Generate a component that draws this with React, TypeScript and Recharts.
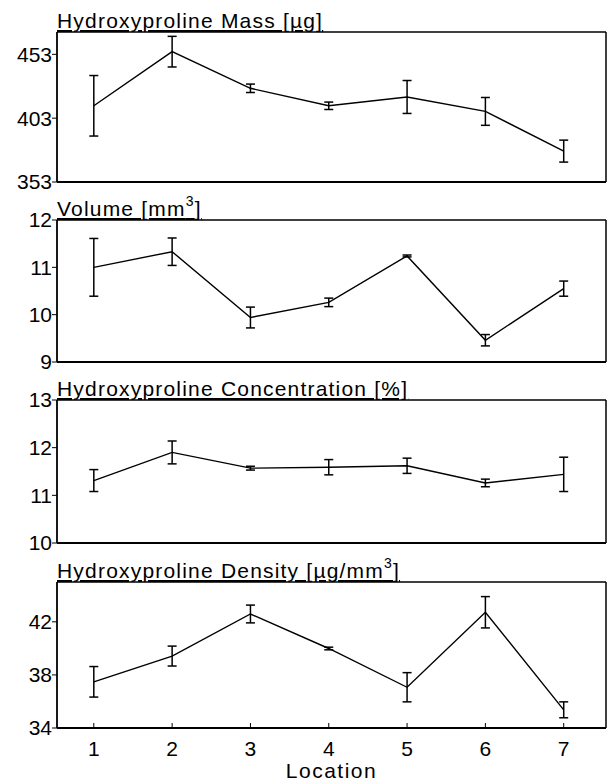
import React from 'react'
import { LineChart, Line, XAxis, YAxis, ErrorBar } from 'recharts'

const locations = [1, 2, 3, 4, 5, 6, 7]

const massMean = [412.7, 455.1, 426.4, 412.7, 419.6, 408.3, 377.2]
const massErr = [23.7, 12, 3.3, 2.9, 12.9, 10.9, 8.6]

const volumeMean = [11.0, 11.33, 9.94, 10.26, 11.24, 9.46, 10.55]
const volumeErr = [0.61, 0.29, 0.22, 0.09, 0.02, 0.12, 0.16]

const concMean = [11.31, 11.9, 11.57, 11.59, 11.62, 11.26, 11.44]
const concErr = [0.23, 0.24, 0.04, 0.16, 0.16, 0.08, 0.36]

const densityMean = [37.48, 39.42, 42.59, 39.99, 37.07, 42.72, 35.37]
const densityErr = [1.15, 0.75, 0.67, 0.1, 1.1, 1.18, 0.6]

const massTicks = [353, 403, 453]
const volumeTicks = [9, 10, 11, 12]
const concTicks = [10, 11, 12, 13]
const densityTicks = [34, 38, 42]

const FONT = '"Liberation Sans", Arial, Helvetica, sans-serif'
const W = 615
const PAD = 12
const X_DOMAIN: [number, number] = [0.53, 7.54]

const rows = (mean: number[], err: number[]) =>
  locations.map((loc, i) => ({ loc, value: mean[i], err: err[i] }))

interface PanelProps {
  data: { loc: number; value: number; err: number }[]
  domain: [number, number]
  ticks: number[]
  top: number
  height: number
  showX?: boolean
}

function Panel({ data, domain, ticks, top, height, showX }: PanelProps) {
  // 1px axes for the frame: recharts skips axes of zero size
  const xH = showX ? 52 : 1
  const tickStyle = { fill: '#000', fontSize: 21, fontFamily: FONT }
  return (
    <div style={{ position: 'absolute', left: 0, top: top - PAD }}>
      <LineChart
        width={W}
        height={height + PAD * 2 + xH}
        data={data}
        margin={{ top: PAD - 1, right: 8, bottom: PAD, left: 0 }}
      >
        <XAxis
          dataKey="loc"
          type="number"
          domain={X_DOMAIN}
          ticks={locations}
          interval={0}
          allowDataOverflow
          height={xH}
          tick={showX ? tickStyle : false}
          tickSize={-5}
          tickMargin={18}
          axisLine={{ stroke: '#000', strokeWidth: 1.8 }}
          tickLine={{ stroke: '#000', strokeWidth: 1 }}
          label={
            showX
              ? { value: 'Location', position: 'insideBottom', offset: 2, fill: '#000', fontSize: 21, fontFamily: FONT, letterSpacing: 1.5 }
              : undefined
          }
        />
        <XAxis
          xAxisId="top"
          orientation="top"
          type="number"
          domain={X_DOMAIN}
          height={1}
          tick={false}
          tickLine={false}
          axisLine={{ stroke: '#000', strokeWidth: 1.5 }}
        />
        <YAxis
          type="number"
          domain={domain}
          ticks={ticks}
          interval={0}
          allowDataOverflow
          width={57}
          tick={tickStyle}
          tickSize={5}
          tickMargin={0}
          axisLine={{ stroke: '#000', strokeWidth: 1.8 }}
          tickLine={{ stroke: '#000', strokeWidth: 1 }}
        />
        <YAxis
          yAxisId="right"
          orientation="right"
          width={1}
          tick={false}
          tickLine={false}
          axisLine={{ stroke: '#000', strokeWidth: 1.5 }}
        />
        <Line
          type="linear"
          dataKey="value"
          stroke="#000"
          strokeWidth={1.4}
          dot={false}
          isAnimationActive={false}
        >
          <ErrorBar dataKey="err" width={4.5} stroke="#000" strokeWidth={1.5} direction="y" isAnimationActive={false} />
        </Line>
      </LineChart>
    </div>
  )
}

function Title({ top, children }: { top: number; children: React.ReactNode }) {
  return (
    <div
      style={{
        position: 'absolute',
        left: 57,
        top: top - 22,
        fontFamily: FONT,
        fontSize: 21,
        lineHeight: '21px',
        letterSpacing: 1.2,
        color: '#000',
        textDecoration: 'underline',
        textDecorationThickness: 1.5,
        textUnderlineOffset: 2,
        whiteSpace: 'nowrap',
      }}
    >
      {children}
    </div>
  )
}

const sup = { fontSize: 14, verticalAlign: 0, position: 'relative' as const, top: -10 }

export default function App() {
  return (
    <div style={{ position: 'absolute', left: 0, top: 0, width: W, height: 781, background: '#fff', overflow: 'hidden' }}>
      <Panel data={rows(massMean, massErr)} domain={[353, 470.5]} ticks={massTicks} top={32} height={150} />
      <Panel data={rows(volumeMean, volumeErr)} domain={[9, 12]} ticks={volumeTicks} top={220} height={142} />
      <Panel data={rows(concMean, concErr)} domain={[10, 13]} ticks={concTicks} top={400} height={143} />
      <Panel data={rows(densityMean, densityErr)} domain={[34, 45]} ticks={densityTicks} top={582} height={146} showX />
      <Title top={32}>Hydroxyproline Mass [µg]</Title>
      <Title top={220}>
        Volume [mm<span style={sup}>3</span>]
      </Title>
      <Title top={400}>Hydroxyproline Concentration [%]</Title>
      <Title top={582}>
        Hydroxyproline Density [µg/mm<span style={sup}>3</span>]
      </Title>
    </div>
  )
}
